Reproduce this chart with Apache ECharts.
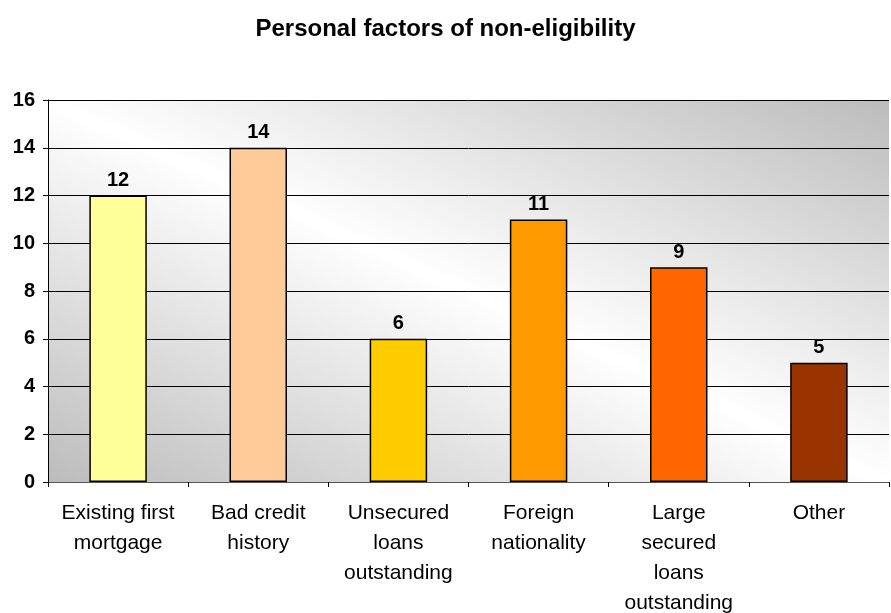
<!DOCTYPE html>
<html>
<head>
<meta charset="utf-8">
<script src="https://cdn.jsdelivr.net/npm/echarts@6/dist/echarts.min.js"></script>
<style>
  html, body { margin: 0; padding: 0; background: #fff; }
  #chart { width: 891px; height: 613px; }
</style>
</head>
<body>
<div id="chart"></div>
<script>
const categories = [
  'Existing first\nmortgage',
  'Bad credit\nhistory',
  'Unsecured\nloans\noutstanding',
  'Foreign\nnationality',
  'Large\nsecured\nloans\noutstanding',
  'Other'
]
const values = [12, 14, 6, 11, 9, 5]
const barColors = ['#FFFF99', '#FFCC99', '#FFCC00', '#FF9900', '#FF6600', '#993300']

const chart = echarts.init(document.getElementById('chart'))

chart.setOption({
  animation: false,
  title: {
    text: 'Personal factors of non-eligibility',
    left: 'center',
    top: 12,
    textStyle: { fontFamily: 'Liberation Sans', fontSize: 24, fontWeight: 'bold', color: '#000' }
  },
  grid: {
    left: 48, right: 2, top: 100, bottom: 131,
    outerBoundsMode: 'none',
    show: true,
    borderWidth: 0,
    // diagonal band: grey bottom-left, white across the TL-BR diagonal, grey top-right
    backgroundColor: {
      type: 'linear', x: 0.328, y: 1.33, x2: 0.67, y2: -0.33,
      colorStops: [
        { offset: 0, color: '#bcbcbc' },
        { offset: 0.5, color: '#ffffff' },
        { offset: 1, color: '#bcbcbc' }
      ]
    }
  },
  xAxis: {
    type: 'category',
    data: categories,
    axisLine: { lineStyle: { color: '#555', width: 1 } },
    axisTick: { show: true, length: 5, lineStyle: { color: '#000' } },
    axisLabel: {
      interval: 0,
      margin: 16,
      fontFamily: 'Liberation Sans',
      fontSize: 21,
      lineHeight: 30,
      color: '#000'
    }
  },
  yAxis: {
    type: 'value',
    min: 0, max: 16, interval: 2,
    axisLine: { show: true, lineStyle: { color: '#000', width: 1 } },
    axisTick: { show: true, length: 5, lineStyle: { color: '#000' } },
    axisLabel: {
      margin: 13,
      fontFamily: 'Liberation Sans',
      fontSize: 20,
      fontWeight: 'bold',
      color: '#000'
    },
    splitLine: { show: true, lineStyle: { color: '#000', width: 1 } }
  },
  series: [{
    type: 'bar',
    data: values.map((v, i) => ({ value: v, itemStyle: { color: barColors[i] } })),
    barWidth: '41%',
    itemStyle: { borderColor: '#000', borderWidth: 1.5 },
    label: {
      show: true,
      position: 'top',
      distance: 5,
      fontFamily: 'Liberation Sans',
      fontSize: 20,
      fontWeight: 'bold',
      color: '#000'
    }
  }]
})
</script>
</body>
</html>
